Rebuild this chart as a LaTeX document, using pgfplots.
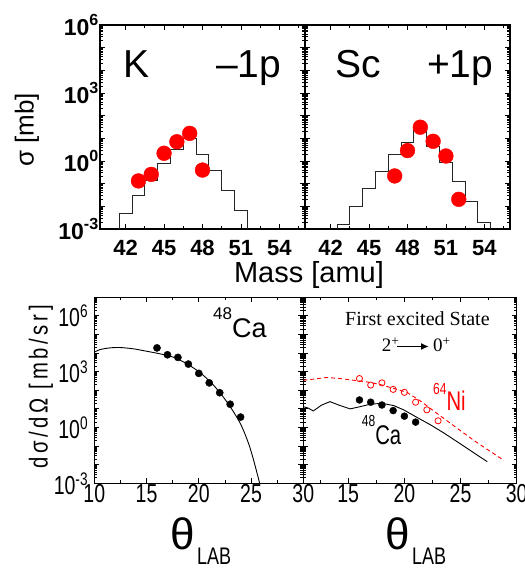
\documentclass[border=0pt]{standalone}
\usepackage{fontspec}
\setmainfont{Liberation Sans}
\newfontfamily\narrow[FakeStretch=0.75]{Liberation Sans}
\newfontfamily\narrowsp[FakeStretch=0.78,LetterSpace=14]{Liberation Sans}
\newfontfamily\timesfont{Liberation Serif}
\usepackage{pgfplots}
\pgfplotsset{compat=1.18}
\usetikzlibrary{arrows.meta}

% log minor ticks, 2..9 in each decade
\def\minortop{2e-3,3e-3,4e-3,5e-3,6e-3,7e-3,8e-3,9e-3,
  0.02,0.03,0.04,0.05,0.06,0.07,0.08,0.09,0.2,0.3,0.4,0.5,0.6,0.7,0.8,0.9,
  2,3,4,5,6,7,8,9,20,30,40,50,60,70,80,90,200,300,400,500,600,700,800,900,
  2000,3000,4000,5000,6000,7000,8000,9000,2e4,3e4,4e4,5e4,6e4,7e4,8e4,9e4,
  2e5,3e5,4e5,5e5,6e5,7e5,8e5,9e5}
\def\minorbot{\minortop,2e6,3e6,4e6,5e6,6e6,7e6,8e6,9e6}

\pgfplotsset{
  mypanel/.style={
    scale only axis, anchor=south west,
    axis line style={line width=1.2pt},
    tick align=inside,
    tick style={black, line width=0.8pt},
    major tick length=5pt, minor tick length=3pt,
  },
  mytop/.style={mypanel, width=205pt, height=204pt,
    xmin=40, xmax=56, ymin=1e-3, ymax=1e6,
    xtick={42,45,48,51,54}, xticklabels={42,45,48,51,54},
    minor xtick={43.5,46.5,49.5,52.5,55.5},
    ytick={1e-3,1e-2,1e-1,1,1e1,1e2,1e3,1e4,1e5,1e6},
    minor ytick/.expanded={\minortop},
    xticklabel style={font=\fontsize{22}{22}\selectfont\bfseries, inner sep=1pt, yshift=-10pt},
    yticklabel style={font=\fontsize{23}{23}\selectfont\bfseries, inner sep=1pt},
  },
  mybot/.style={mypanel, height=186pt, xmax=30, ymin=1e-3, ymax=1e7,
    ytick={1e-3,1e-2,1e-1,1,1e1,1e2,1e3,1e4,1e5,1e6,1e7},
    minor ytick/.expanded={\minorbot},
    xticklabel style={font=\narrow\fontsize{26}{26}\selectfont, inner sep=1pt},
    yticklabel style={font=\narrow\fontsize{26}{26}\selectfont, inner sep=1pt, xshift=-5pt},
  },
  myhist/.style={black!85, line width=1pt, const plot mark left, mark=none},
  myreddot/.style={only marks, mark=*, mark size=7.4pt, red, mark options={draw=red, fill=red}},
}

\begin{document}
\begin{tikzpicture}[x=1pt,y=1pt]
\useasboundingbox (0,0) rectangle (525,568);

% top left: K, -1p
\begin{axis}[ymode=log, mytop, at={(100pt,339pt)},
  yticklabels={10\textsuperscript{-3},,,10\textsuperscript{0},,,10\textsuperscript{3},,,10\textsuperscript{6}}]
\addplot[myhist] coordinates {
  (41.5,1e-5) (41.5,0.0049) (42.5,0.0288) (43.5,0.1445) (44.5,0.741) (45.5,3.09)
  (46.5,10.0) (47.5,1.86) (48.5,0.363) (49.5,0.0479) (50.5,0.00646) (51.5,1e-5)
};
\addplot[myreddot] coordinates {
  (43,0.132) (44,0.257) (45,2.19) (46,7.08) (47,16.6) (48,0.398)
};
\end{axis}

% top right: Sc, +1p
\begin{axis}[ymode=log, mytop, at={(305pt,339pt)}, yticklabels={}]
\addplot[myhist] coordinates {
  (42.5,1e-5) (42.5,0.00151) (43.5,0.00977) (44.5,0.0631) (45.5,0.339) (46.5,1.86)
  (47.5,6.61) (48.5,24.0) (49.5,4.27) (50.5,0.891) (51.5,0.123) (52.5,0.0166)
  (53.5,0.00191) (54.5,1e-5)
};
\addplot[myreddot] coordinates {
  (47,0.219) (48,2.88) (49,30.9) (50,7.41) (51,1.66) (52,0.0204)
};
\end{axis}

% bottom left: elastic 48Ca
\begin{axis}[ymode=log, mybot, at={(94.3pt,84.7pt)}, width=209pt, xmin=10,
  xtick={10,15,20,25,30}, xticklabels={10,15,20,25,30},
  minor xtick={12.5,17.5,22.5,27.5},
  yticklabels={10\textsuperscript{-3},,,10\textsuperscript{0},,,10\textsuperscript{3},,,10\textsuperscript{6},}]
\addplot[black, line width=0.9pt, smooth, mark=none] coordinates {
  (10.0,11220) (10.55,15490) (11.5,19050) (12.46,19950) (13.74,16980) (15.01,12590)
  (16.29,9120) (17.57,6030) (18.84,2690) (20.12,891) (21.4,191) (22.67,24.5)
  (23.95,1.74) (24.9,0.0813) (25.8,0.00112) (26.2,0.0001)
};
\addplot[only marks, mark=*, mark size=3.6pt, black] coordinates {
  (16,19050) (17,8130) (18,5890) (19,2570) (20,813) (21,251) (22,74.1) (23,17.8) (24,3.63)
};
\end{axis}

% bottom right: first excited state
\begin{axis}[ymode=log, mybot, at={(303.3pt,84.7pt)}, width=213.4pt, xmin=11,
  xtick={15,20,25,30}, xticklabels={15,20,25,30},
  minor xtick={12.5,17.5,22.5,27.5}, yticklabels={}]
\addplot[red, line width=0.9pt, dash pattern=on 4pt off 3pt, mark=none] coordinates {
  (11.0,347) (11.89,398) (13.08,490) (14.28,427) (15.47,347) (16.67,282) (17.86,204)
  (19.04,126) (20.23,77.6) (21.42,26.9) (22.61,7.76) (23.8,2.29) (24.99,0.676)
  (26.18,0.204) (27.38,0.0661) (28.87,0.0170)
};
\addplot[black, line width=0.9pt, mark=none] coordinates {
  (11.0,13.2) (11.45,11.0) (11.89,7.76) (12.64,16.2) (13.38,24.5) (14.28,15.1)
  (15.17,10.0) (16.06,13.2) (16.96,17.8) (18.0,20.0) (19.04,15.1) (19.93,8.91)
  (21.13,3.47) (22.31,1.41) (23.5,0.513) (24.99,0.132) (26.18,0.0437) (27.38,0.0145)
};
\addplot[only marks, mark=o, mark size=3.1pt, red, line width=0.8pt] coordinates {
  (16,427) (17,191) (18,251) (19,112) (20,77.6) (21,22.9) (22,8.91) (23,2.29)
};
\addplot[only marks, mark=*, mark size=3.5pt, black] coordinates {
  (16,30.2) (17,22.9) (18,16.2) (19,8.13) (20,4.07) (21,1.95)
};
\end{axis}

% panel texts
\node[anchor=base west, inner sep=0pt, font=\fontsize{39}{39}\selectfont] at (123,490) {K};
\node[anchor=base west, inner sep=0pt, font=\fontsize{39}{39}\selectfont] at (216,490) {–1p};
\node[anchor=base west, inner sep=0pt, font=\fontsize{39}{39}\selectfont] at (335,490) {Sc};
\node[anchor=base west, inner sep=0pt, font=\fontsize{39}{39}\selectfont] at (427,490) {+1p};

\node[rotate=90, font=\fontsize{26}{26}\selectfont] at (27,438) {σ [mb]};
\node[font=\fontsize{29}{29}\selectfont] at (309,293) {Mass [amu]};
\node[rotate=90, font={\narrowsp\fontsize{26}{26}\selectfont}] at (41,181) {dσ/dΩ [mb/sr]};

\node[anchor=base west, inner sep=0pt, font=\fontsize{27}{27}\selectfont] at (213,230)
  {\raisebox{18pt}{\fontsize{17}{17}\selectfont 48}Ca};
\node[anchor=base west, inner sep=0pt, font=\timesfont\fontsize{20}{20}\selectfont] at (345,242)
  {First excited State};
\node[anchor=base west, inner sep=0pt, font=\timesfont\fontsize{19}{19}\selectfont] at (381.7,216.3)
  {2\textsuperscript{+}};
\draw[-{Latex[length=8pt,width=7pt]}, line width=1.6pt] (397,221.5) -- (429,221.5);
\node[anchor=base west, inner sep=0pt, font=\timesfont\fontsize{19}{19}\selectfont] at (433,216.3)
  {0\textsuperscript{+}};
\node[anchor=base west, inner sep=0pt, red, font=\narrow\fontsize{27}{27}\selectfont] at (433,157)
  {\raisebox{16pt}{\fontsize{16}{16}\selectfont 64}Ni};
\node[anchor=base west, inner sep=0pt, font=\narrow\fontsize{27}{27}\selectfont] at (361.7,123)
  {\raisebox{18pt}{\fontsize{16}{16}\selectfont 48}Ca};

% theta_LAB labels
\node[anchor=base west, inner sep=0pt, font=\fontsize{44}{44}\selectfont] at (170,19) {θ};
\node[anchor=base west, inner sep=0pt, font=\narrow\fontsize{24}{24}\selectfont] at (197,3) {LAB};
\node[anchor=base west, inner sep=0pt, font=\fontsize{44}{44}\selectfont] at (385,19) {θ};
\node[anchor=base west, inner sep=0pt, font=\narrow\fontsize{24}{24}\selectfont] at (412,3) {LAB};
\end{tikzpicture}
\end{document}
